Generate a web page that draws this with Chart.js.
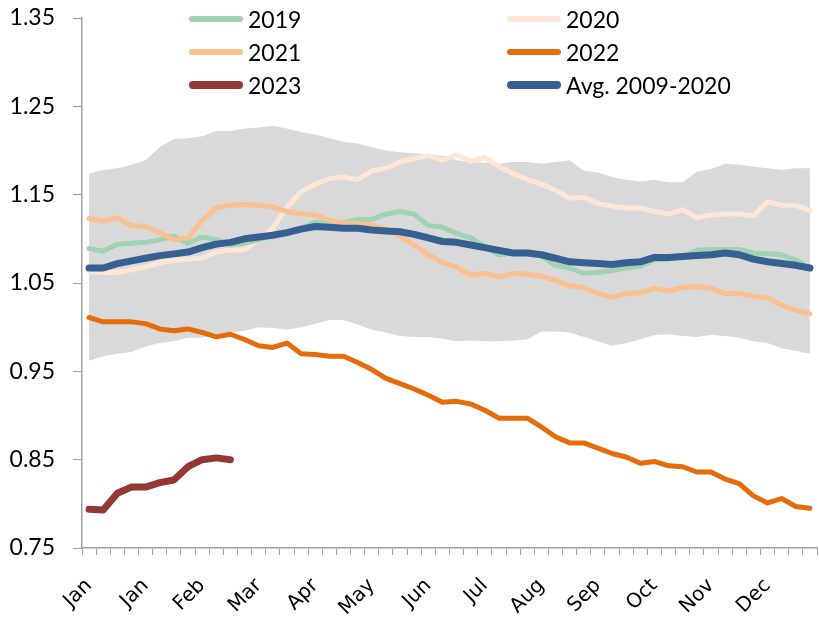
<!DOCTYPE html>
<html>
<head>
<meta charset="utf-8">
<script src="https://cdn.jsdelivr.net/npm/chart.js@4.4.1/dist/chart.umd.min.js"></script>
<style>
  body { margin: 0; background: #fff; }
  #wrap { position: relative; width: 819px; height: 618px; }
  #legend {
    position: absolute; left: 189px; top: 2px;
    display: grid; grid-template-columns: 318px auto; grid-auto-rows: 33px;
    font-family: Lato, sans-serif; font-size: 23px; color: #000;
  }
  #legend .item { display: flex; align-items: center; white-space: nowrap; }
  #legend .sw { display: inline-block; width: 54px; margin-right: 5px; }
</style>
</head>
<body>
<div id="wrap">
  <canvas id="grafico" width="819" height="618"></canvas>
  <div id="legend"></div>
</div>
<script>
// weekly categories, a month name every 4th week
const weekLabels = [
  'Jan', '', '', '', 'Jan', '', '', '', 'Feb', '', '', '', 'Mar', '', '', '',
  'Apr', '', '', '', 'May', '', '', '', 'Jun', '', '', '', 'Jul', '', '', '',
  'Aug', '', '', '', 'Sep', '', '', '', 'Oct', '', '', '', 'Nov', '', '', '',
  'Dec', '', '', ''
];
const yTicks = [0.75, 0.85, 0.95, 1.05, 1.15, 1.25, 1.35];

const rangeMax = [1.174, 1.178, 1.180, 1.184, 1.189, 1.204, 1.213, 1.214, 1.216, 1.222,
  1.222, 1.225, 1.226, 1.228, 1.225, 1.221, 1.218, 1.214, 1.210, 1.208,
  1.204, 1.200, 1.198, 1.197, 1.196, 1.194, 1.189, 1.187, 1.186, 1.185,
  1.187, 1.187, 1.185, 1.187, 1.189, 1.177, 1.175, 1.170, 1.167, 1.165,
  1.167, 1.164, 1.164, 1.176, 1.179, 1.185, 1.184, 1.182, 1.180, 1.178,
  1.180, 1.180];
const rangeMin = [0.962, 0.967, 0.970, 0.972, 0.978, 0.982, 0.984, 0.988, 0.988, 0.992,
  0.994, 0.996, 1.000, 0.999, 0.997, 1.000, 1.004, 1.008, 1.008, 1.003,
  0.997, 0.994, 0.990, 0.989, 0.989, 0.987, 0.984, 0.985, 0.984, 0.984,
  0.985, 0.986, 0.995, 0.995, 0.994, 0.989, 0.984, 0.979, 0.982, 0.986,
  0.991, 0.992, 0.990, 0.989, 0.991, 0.990, 0.988, 0.984, 0.982, 0.976,
  0.973, 0.970];
const avg0920 = [1.067, 1.067, 1.072, 1.075, 1.078, 1.081, 1.083, 1.085, 1.090, 1.094,
  1.096, 1.100, 1.102, 1.104, 1.107, 1.111, 1.114, 1.113, 1.112, 1.112,
  1.110, 1.109, 1.108, 1.105, 1.101, 1.097, 1.096, 1.093, 1.090, 1.087,
  1.084, 1.084, 1.082, 1.078, 1.074, 1.073, 1.072, 1.071, 1.073, 1.074,
  1.079, 1.079, 1.080, 1.081, 1.082, 1.084, 1.082, 1.077, 1.074, 1.072,
  1.070, 1.067];
const y2019 = [1.089, 1.086, 1.094, 1.095, 1.096, 1.099, 1.103, 1.095, 1.102, 1.099,
  1.093, 1.095, 1.099, 1.104, 1.106, 1.112, 1.119, 1.117, 1.118, 1.122,
  1.122, 1.128, 1.131, 1.128, 1.115, 1.113, 1.106, 1.101, 1.091, 1.082,
  1.084, 1.085, 1.081, 1.070, 1.067, 1.061, 1.062, 1.064, 1.067, 1.069,
  1.076, 1.077, 1.080, 1.087, 1.088, 1.088, 1.088, 1.084, 1.083, 1.082,
  1.076, 1.067];
const y2020 = [1.063, 1.062, 1.062, 1.065, 1.068, 1.073, 1.076, 1.077, 1.078, 1.085,
  1.087, 1.088, 1.099, 1.112, 1.136, 1.153, 1.162, 1.168, 1.170, 1.167,
  1.177, 1.180, 1.187, 1.191, 1.194, 1.189, 1.195, 1.188, 1.192, 1.182,
  1.174, 1.167, 1.162, 1.155, 1.146, 1.147, 1.140, 1.137, 1.135, 1.135,
  1.131, 1.128, 1.133, 1.124, 1.127, 1.128, 1.128, 1.126, 1.142, 1.138,
  1.138, 1.132];
const y2021 = [1.123, 1.120, 1.124, 1.115, 1.114, 1.107, 1.099, 1.101, 1.121, 1.135,
  1.138, 1.139, 1.138, 1.136, 1.131, 1.128, 1.127, 1.121, 1.118, 1.117,
  1.116, 1.111, 1.103, 1.093, 1.082, 1.073, 1.068, 1.059, 1.061, 1.057,
  1.061, 1.060, 1.058, 1.053, 1.047, 1.045, 1.038, 1.034, 1.038, 1.039,
  1.044, 1.041, 1.045, 1.046, 1.044, 1.038, 1.038, 1.035, 1.033, 1.025,
  1.019, 1.015];
const y2022 = [1.011, 1.006, 1.006, 1.006, 1.004, 0.998, 0.996, 0.998, 0.994, 0.989,
  0.992, 0.986, 0.979, 0.977, 0.982, 0.970, 0.969, 0.967, 0.967, 0.960,
  0.952, 0.942, 0.936, 0.930, 0.923, 0.915, 0.916, 0.913, 0.906, 0.897,
  0.897, 0.897, 0.887, 0.876, 0.869, 0.869, 0.863, 0.857, 0.853, 0.846,
  0.848, 0.843, 0.842, 0.836, 0.836, 0.828, 0.823, 0.809, 0.801, 0.806,
  0.797, 0.795];
const y2023 = [0.794, 0.793, 0.812, 0.819, 0.819, 0.824, 0.827, 0.842, 0.850, 0.852, 0.850];

const series = [
  { label: '2019', data: y2019, color: '#9fd3b4', width: 5, order: 4 },
  { label: '2020', data: y2020, color: '#fde6d6', width: 5, order: 5 },
  { label: '2021', data: y2021, color: '#fac08f', width: 5, order: 3 },
  { label: '2022', data: y2022, color: '#e46c0a', width: 5, order: 2 },
  { label: '2023', data: y2023, color: '#953735', width: 7, order: 1 },
  { label: 'Avg. 2009-2020', data: avg0920, color: '#376092', width: 7, order: 0 }
];

const lineSets = series.map(s => ({
  label: s.label,
  data: s.data,
  borderColor: s.color,
  borderWidth: s.width,
  borderCapStyle: 'round',
  borderJoinStyle: 'round',
  pointRadius: 0,
  fill: false,
  order: s.order
}));

const bandSets = [
  { label: 'max', data: rangeMax, borderWidth: 0, pointRadius: 0,
    backgroundColor: '#d9d9d9', fill: '+1', order: 10 },
  { label: 'min', data: rangeMin, borderWidth: 0, pointRadius: 0,
    fill: false, order: 11 }
];

// html legend
const legendEl = document.getElementById('legend');
series.forEach(s => {
  const item = document.createElement('div');
  item.className = 'item';
  const sw = document.createElement('span');
  sw.className = 'sw';
  sw.style.height = (s.width + 1) + 'px';
  sw.style.borderRadius = '4px';
  sw.style.background = s.color;
  item.appendChild(sw);
  item.appendChild(document.createTextNode(s.label));
  legendEl.appendChild(item);
});

const ctx = document.getElementById('grafico').getContext('2d');
new Chart(ctx, {
  type: 'line',
  data: {
    labels: weekLabels,
    datasets: [...lineSets, ...bandSets]
  },
  options: {
    responsive: false,
    animation: false,
    layout: { padding: { top: 18, right: 2, left: 0, bottom: 0 } },
    plugins: {
      legend: { display: false },
      tooltip: { enabled: false }
    },
    scales: {
      x: {
        offset: true,
        grid: { offset: true, drawOnChartArea: false, drawTicks: true, tickLength: 7, color: '#a0a0a0' },
        border: { color: '#a0a0a0', width: 1.5 },
        ticks: {
          autoSkip: false,
          maxRotation: 45,
          minRotation: 45,
          padding: 19,
          color: '#000',
          font: { family: 'DejaVu Sans', size: 20 }
        },
        afterFit: scale => {
          scale.height = 70;
          scale.paddingLeft = 0;
          scale.paddingRight = 0;
        }
      },
      y: {
        min: 0.75,
        max: 1.35,
        afterBuildTicks: scale => { scale.ticks = yTicks.map(v => ({ value: v })); },
        grid: { drawOnChartArea: false, drawTicks: true, tickLength: 9, color: '#a0a0a0' },
        border: { color: '#a0a0a0', width: 1.5 },
        ticks: {
          padding: 18,
          color: '#000',
          font: { family: 'Lato', size: 23 },
          callback: v => v.toFixed(2)
        },
        afterFit: scale => {
          scale.width = 82;
          scale.paddingTop = 0;
          scale.paddingBottom = 0;
        }
      }
    }
  }
});
</script>
</body>
</html>
